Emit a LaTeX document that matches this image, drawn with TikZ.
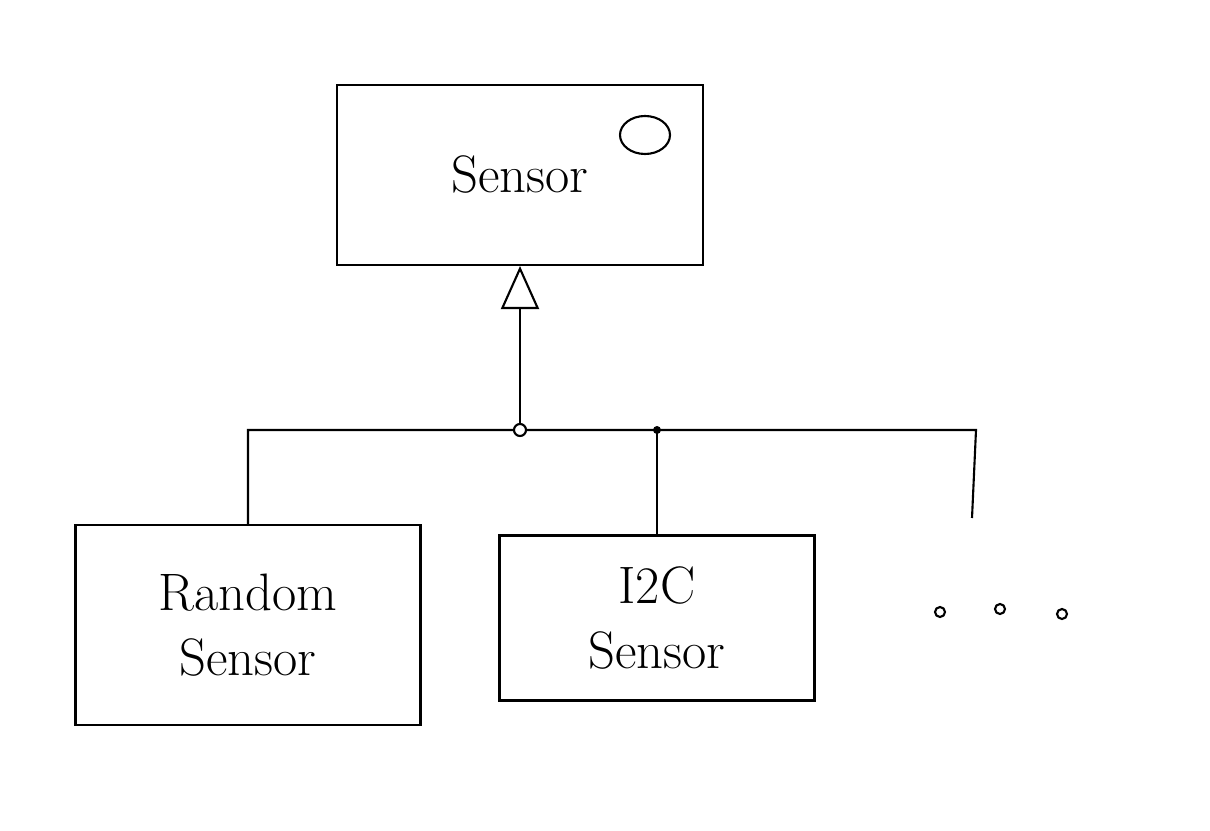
\documentclass[tikz,border=0pt]{standalone}
\usepackage{amsmath}
\usepackage{amssymb}
\usetikzlibrary{arrows.meta}

\tikzset{
  classbox/.style={draw, align=center, font=\fontsize{30}{37}\selectfont},
  inherit/.style={-{Triangle[open, length=0.86cm, width=0.76cm]}}
}

\begin{document}
\begin{tikzpicture}[x=0.02cm,y=-0.02cm,line width=1.2pt]
\useasboundingbox (0,0) rectangle (1210,831);

\node[classbox, minimum width=7.32cm, minimum height=3.6cm] (sensor) at (520,175) {Sensor};
\node[classbox, minimum width=6.9cm, minimum height=4cm] (random) at (248,625) {Random\\Sensor};
\node[classbox, minimum width=6.3cm, minimum height=3.3cm] (i2c) at (657,618) {I2C\\Sensor};

\coordinate (bus) at (520,430);
\coordinate (busR) at (976,430);
\coordinate (more) at (972,518);
\coordinate (mark) at (645,135);

\draw (mark) ellipse (25 and 19);

\draw[inherit] (bus) -- (sensor.south);
\draw (random.north) |- (busR) -- (more);
\draw (i2c.north) -- (i2c.north |- bus);
\draw[fill=white] (bus) circle (6);
\fill (i2c.north |- bus) circle (4);

\draw (940,612) circle (5);
\draw (1000,609) circle (5);
\draw (1062,614) circle (5);
\end{tikzpicture}
\end{document}
